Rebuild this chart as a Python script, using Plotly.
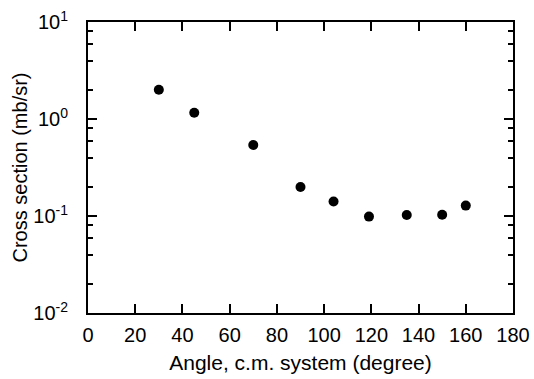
import plotly.graph_objects as go

angles = [30, 45, 70, 90, 104, 119, 135, 150, 160]
cross_sections = [2.0, 1.16, 0.54, 0.199, 0.141, 0.0986, 0.1026, 0.103, 0.128]

x_ticks = [0, 20, 40, 60, 80, 100, 120, 140, 160, 180]
y_ticks = [0.01, 0.1, 1, 10]
y_ticktext = ["10<sup>-2</sup>", "10<sup>-1</sup>", "10<sup>0</sup>", "10<sup>1</sup>"]
y_minor = [m * d for d in [0.01, 0.1, 1] for m in [2, 4, 6, 8]]

fig = go.Figure()
fig.add_trace(go.Scatter(
    x=angles, y=cross_sections, mode="markers",
    marker=dict(color="black", size=10, line=dict(width=0)),
    showlegend=False,
))

font = "Liberation Sans, Arial, Helvetica, sans-serif"
fig.update_layout(
    width=534, height=379,
    margin=dict(l=88, r=21, t=22, b=66),
    paper_bgcolor="white", plot_bgcolor="white",
    font=dict(family=font, color="black"),
)
fig.update_xaxes(
    range=[0, 180], tickvals=x_ticks, automargin=False,
    ticks="inside", ticklen=9, tickwidth=1.5, tickcolor="black",
    showline=True, linewidth=2, linecolor="black", mirror="allticks",
    showgrid=False, zeroline=False,
    tickfont=dict(size=20), ticklabelstandoff=3,
    title=dict(text="Angle, c.m. system (degree)", font=dict(size=21), standoff=10),
)
fig.update_yaxes(
    type="log", range=[-2, 1], tickvals=y_ticks, ticktext=y_ticktext, automargin=False,
    ticks="inside", ticklen=9, tickwidth=1.5, tickcolor="black",
    showline=True, linewidth=2, linecolor="black", mirror="allticks",
    showgrid=False, zeroline=False,
    tickfont=dict(size=20), ticklabelstandoff=14,
    minor=dict(tickvals=y_minor, ticks="inside", ticklen=5, tickwidth=1.5, tickcolor="black", showgrid=False),
    title=dict(text="Cross section (mb/sr)", font=dict(size=20), standoff=0),
)
fig.write_html("out.html")
